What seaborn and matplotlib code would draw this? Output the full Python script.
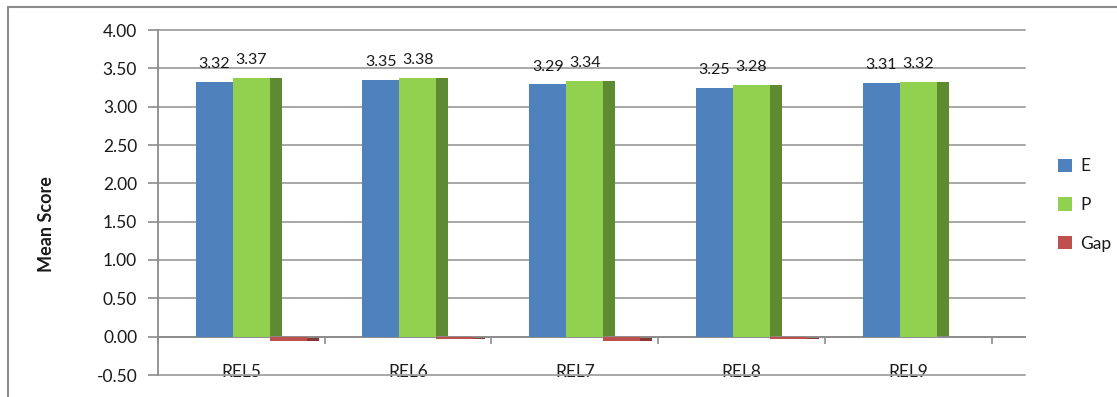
import matplotlib
matplotlib.use("Agg")
import matplotlib.pyplot as plt
from matplotlib.patches import Rectangle
from matplotlib.lines import Line2D
from matplotlib.ticker import FixedLocator
import numpy as np
import pandas as pd
import seaborn as sns

# Mean scores per item: Expectation (E), Perception (P) and the Gap (E - P)
categories = ["REL5", "REL6", "REL7", "REL8", "REL9"]
e_scores = [3.32, 3.35, 3.29, 3.25, 3.31]
p_scores = [3.37, 3.38, 3.34, 3.28, 3.32]
gap_scores = [-0.05, -0.03, -0.05, -0.03, -0.01]
series = ["E", "P", "Gap"]
y_ticks = [-0.5, 0.0, 0.5, 1.0, 1.5, 2.0, 2.5, 3.0, 3.5, 4.0]

front_colors = {"E": "#4F81BD", "P": "#92D050", "Gap": "#C0504D"}
side_colors = {"E": "#385D8A", "P": "#5E8A32", "Gap": "#8C3836"}

df = pd.DataFrame({
    "item": categories * 3,
    "series": [s for s in series for _ in categories],
    "score": e_scores + p_scores + gap_scores,
})

sns.set_theme(style="white")
plt.rcParams["font.family"] = ["Lato", "DejaVu Sans"]

W, H = 1117, 397
fig = plt.figure(figsize=(W / 100, H / 100), dpi=100)
ax = fig.add_axes([158 / W, (H - 375) / H, 867 / W, 345 / H])

sns.barplot(data=df, x="item", y="score", hue="series", order=categories,
            hue_order=series, palette=front_colors, width=0.666,
            saturation=1, linewidth=0, legend=False, ax=ax, zorder=3)

# Shift the clusters slightly right and give each column a darker side face
shift = 0.059
depth = 0.072
for bar in list(ax.patches):
    bar.set_x(bar.get_x() + shift)
    color = bar.get_facecolor()
    key = [k for k, v in front_colors.items()
           if np.allclose(matplotlib.colors.to_rgba(v), color)][0]
    side = Rectangle((bar.get_x() + bar.get_width(), 0), depth,
                     bar.get_height(), facecolor=side_colors[key],
                     linewidth=0, zorder=2)
    ax.add_patch(side)

# Value labels above the E and P columns
for cont, name in zip(ax.containers, series):
    if name == "Gap":
        continue
    for bar, val in zip(cont, cont.datavalues):
        ax.annotate(f"{val:.2f}", (bar.get_x() + bar.get_width() / 2, val),
                    xytext=(0, 10), textcoords="offset points",
                    ha="center", va="baseline", fontsize=11.5,
                    color="#1a1a1a", zorder=5)

ax.set_xlim(-0.5, 4.7)
ax.set_ylim(-0.5, 4.0)
ax.set_yticks(y_ticks)
ax.set_yticklabels([f"{t:.2f}" for t in y_ticks], fontsize=12.5, color="#1a1a1a")

# Horizontal gridlines across the plot
for t in y_ticks:
    ax.axhline(t, color="#A0A0A0", linewidth=1.3, zorder=1, clip_on=False)

# Category axis sitting on zero, with boundary ticks and centred labels
ax.spines["bottom"].set_position(("data", 0))
ax.spines["bottom"].set_color("#8C8C8C")
ax.spines["bottom"].set_linewidth(1.3)
ax.spines["left"].set_color("#8C8C8C")
ax.spines["left"].set_linewidth(1.3)
ax.spines["top"].set_visible(False)
ax.spines["right"].set_visible(False)

ax.xaxis.set_major_locator(FixedLocator(np.arange(-0.5, 5.0, 1.0)))
ax.xaxis.set_major_formatter(matplotlib.ticker.NullFormatter())
ax.xaxis.set_minor_locator(FixedLocator(np.arange(len(categories))))
ax.xaxis.set_minor_formatter(matplotlib.ticker.FixedFormatter(categories))
ax.tick_params(axis="x", which="major", direction="out", length=5,
               width=1.2, color="#8C8C8C", bottom=True)
ax.tick_params(axis="x", which="minor", length=0, pad=20, labelsize=12.5,
               labelcolor="#1a1a1a", bottom=True)
ax.tick_params(axis="y", direction="out", length=7, width=1.2,
               color="#8C8C8C", pad=8, left=True)
ax.set_xlabel("")
ax.set_ylabel("Mean Score", fontsize=13, fontweight="bold", color="#1a1a1a")
ax.yaxis.set_label_coords(-0.119, 0.438)

# Legend
handles = [Rectangle((0, 0), 1, 1, facecolor=front_colors[s], linewidth=0)
           for s in series]
fig.legend(handles, series, loc="center left",
           bbox_to_anchor=(1042 / W, 1 - 205 / H), frameon=False,
           fontsize=12.5, handlelength=0.8, handleheight=0.8,
           handletextpad=0.5, labelspacing=1.3, labelcolor="#1a1a1a")

# Chart-area border along the top and left
fig.add_artist(Line2D([8 / W, 8 / W], [0, 1 - 7 / H], transform=fig.transFigure,
                      color="#8C8C8C", linewidth=1.5))
fig.add_artist(Line2D([8 / W, 1], [1 - 7 / H, 1 - 7 / H], transform=fig.transFigure,
                      color="#8C8C8C", linewidth=1.5))

fig.savefig("out.png", dpi=100)
